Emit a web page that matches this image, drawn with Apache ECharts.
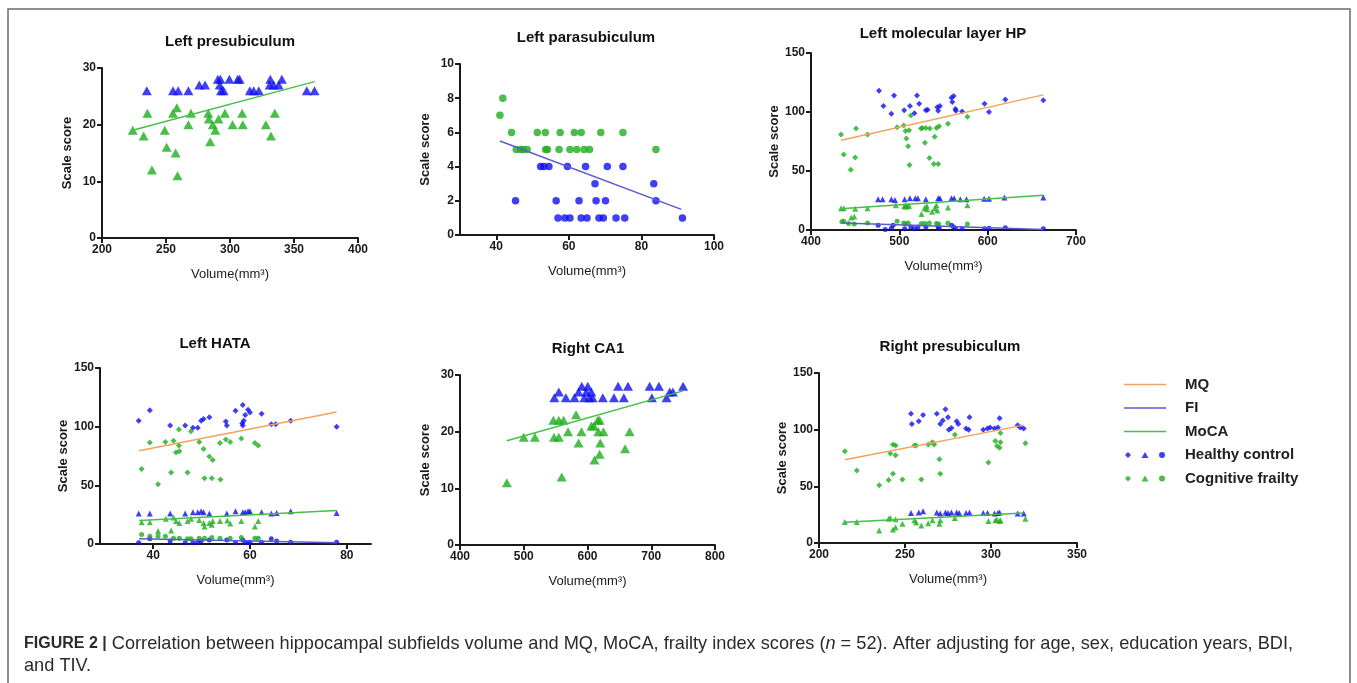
<!DOCTYPE html>
<html>
<head>
<meta charset="utf-8">
<script src="https://cdn.jsdelivr.net/npm/echarts@6/dist/echarts.min.js"></script>
<style>
  html, body { margin: 0; padding: 0; background: #fff; }
  #chart { width: 1357px; height: 683px; }
</style>
</head>
<body>
<div id="chart"></div>
<script>
// 海马亚区体积 vs MQ / MoCA / FI 散点 + 拟合线, 六个小图 + 右侧图例 + 图注
// [x 体积 mm3, y 分数]

// Left presubiculum
const lpsMocaHC = [[235,26],[255.5,26],[259.5,26],[267.5,26],[276,27],[280.5,27],[290.5,28],[292.5,28],[292,27],[293,26],[295,26],[299.5,28],[306,28],[307.5,28],[315.5,26],[318.5,26],[322.5,26],[331.5,28],[331,27],[334,27],[338,27],[340.5,28],[360,26],[366,26]]
const lpsMocaCF = [[224,19],[232.5,18],[235.5,22],[239,12],[249,19],[250.5,16],[255.5,22],[257.5,15],[258.5,23],[259,11],[267.5,20],[269.5,22],[283,22],[283.5,21],[284.5,17],[286.5,20],[288.5,19],[291,21],[296,22],[302,20],[309.5,22],[310,20],[328,20],[332,18],[335,22]]
const lpsMocaFit = [[224,19],[366,27.6]]

// Left parasubiculum
const lparaFiCF = [[41,7],[41.8,8],[44.2,6],[45.5,5],[46.7,5],[47.4,5],[48.5,5],[51.3,6],[53.5,6],[53.6,5],[54.1,5],[57.6,6],[57.3,5],[60.3,5],[61.5,6],[62.2,5],[63.4,6],[64.2,5],[65.7,5],[68.8,6],[74.9,6],[84,5]]
const lparaFiHC = [[45.3,2],[52.2,4],[53.1,4],[54.5,4],[56.5,2],[57,1],[58.9,1],[60.3,1],[59.6,4],[62.8,2],[63.4,1],[65,1],[64.6,4],[67.2,3],[67.5,2],[68.3,1],[69.5,1],[70.1,2],[70.6,4],[73,1],[74.9,4],[75.4,1],[83.4,3],[84,2],[91.3,1]]
const lparaFiFit = [[41,5.5],[91,1.5]]

// Left molecular layer HP
const lmlMqHC = [[477,118],[482,105],[491,98.5],[494,114],[505.5,101.5],[512,105],[517,99],[520,114],[522.5,107],[530,101.5],[532,102],[543,104],[544,101],[546,105],[559,112],[561.5,113.5],[560,108.5],[563.5,102.5],[564,101],[571,100.5],[596.5,107],[601.5,100],[620,110.5],[663,110]]
const lmlMqCF = [[434,81],[437,64],[445,51],[450,61.5],[451,86],[464,81],[497.5,87],[505,88.5],[507,84],[508,77.5],[510,71],[511.5,55],[511,84.5],[513,97],[524.5,86],[526,86.5],[529,74],[530,86.5],[534,61],[534.5,86],[539,56],[540,79],[542,86.5],[544,56],[545,88],[555,90],[577,96]]
const lmlMocaHC = [[476,26],[481,26],[491,26],[495,25.5],[506,26],[512,27],[518,27],[521,27],[530,26],[544,27],[546,27],[559,27],[562,27],[569,26],[576,26],[596,26.5],[601.5,26.5],[619,27.5],[663,27.5]]
const lmlMocaCF = [[434,18.5],[437,18.5],[450,18],[464,18.5],[445.5,10.5],[449,11.5],[496,21],[505.5,20],[507,21],[509,20],[511,20.5],[525,13.5],[528.5,18.5],[531,20.5],[531.5,17.5],[537,15.5],[540,18.5],[542,21],[543,16.5],[555,19],[577,21]]
const lmlFiCF = [[435,7],[437,7.5],[442.5,5.5],[449,5],[464,6],[497.5,7.5],[505,6],[507,5],[510,6],[525,5.5],[529,5.5],[534,6],[542,5.5],[544.5,5],[555,6],[577,5]]
const lmlFiHC = [[476,4],[484,0.5],[491,1.5],[493,4],[506,1],[513,2.5],[517,1],[521,2.5],[530,2.5],[544,2.5],[545,1.5],[559,4],[561.5,2.5],[563.5,1.5],[571,1],[596.5,1],[601.5,1.5],[620,2],[663,1]]
const lmlMqFit = [[434,76],[663,114.5]]
const lmlMocaFit = [[433,18],[663,29.5]]
const lmlFiFit = [[435,6],[663,0.5]]

// Left HATA
const hataMqHC = [[37,105],[39.3,114],[43.5,101],[46.6,101],[48.2,99],[49.2,99],[49.9,105],[50.4,106.5],[51.6,108],[55,104.5],[55.2,101],[57,113.5],[58.5,118.5],[58.4,103],[58.5,101],[58.7,105],[59,110],[59.6,114.5],[60,112],[62.4,111],[64.4,102],[65.3,102],[68.4,105],[77.9,100]]
const hataMqCF = [[37.6,64],[39.3,86.5],[41,51],[42.5,87],[43.7,61],[44.2,88],[44.7,78],[45.4,79],[45.3,84],[45.3,97.5],[47.1,61],[47.8,96],[49.5,87],[50.4,81],[50.6,56],[51.6,74.5],[52.1,56],[52.3,71.5],[53.8,86],[53.9,55],[55,89],[55.9,87],[58.2,90],[61,86],[61.7,84]]
const hataMocaHC = [[37,26],[39.3,26],[43.5,26],[46.6,26],[48.2,27],[49.2,27],[49.9,28],[50.4,27],[51.6,26],[55.2,26],[57,28],[58.5,27],[59,27],[59.6,28],[60,28],[62.4,27],[64.4,26],[65.5,26.5],[68.4,28],[77.9,26.5]]
const hataMocaCF = [[37.6,18.5],[39.3,18.5],[41,11],[42.6,21.5],[43.7,11.5],[44.2,22.5],[44.7,19.5],[45.4,18],[47.1,19.5],[47.8,21.5],[49.5,20.5],[50.4,18],[50.6,15],[51.6,18],[52.1,16.5],[52.3,19.5],[53.8,19.5],[55.3,20],[55.9,17.5],[58.2,19.5],[61,15],[61.7,19.5]]
const hataFiCF = [[37.6,8],[39.3,6.5],[41,6.5],[42.5,6.5],[44.2,5],[45.4,5],[47.1,4.5],[47.8,4.5],[49.5,5],[50.6,5],[52.1,5.5],[53.8,5],[55.9,5],[58.2,5.5],[61,5],[61.7,5]]
const hataFiHC = [[37,1],[39.3,4.5],[43.5,2.5],[46.6,1],[48.2,1],[49.2,1.5],[49.9,2.5],[51.6,3.5],[55.2,3.5],[57,1],[58.5,3.5],[59,1.5],[59.6,1],[60,1.5],[62.4,1.5],[64.4,4.5],[65.5,2.5],[68.4,1.5],[77.9,1.5]]
const hataMqFit = [[37.1,79.5],[77.9,112.5]]
const hataMocaFit = [[37.1,20],[77.9,28.5]]
const hataFiFit = [[37.1,4.5],[77.9,1]]

// Right CA1
const rca1MocaHC = [[548,26],[555,27],[566,26],[579.5,26],[586,27],[591,28],[595,26],[598,27],[600.5,28],[603,26],[606,27],[608,26],[624,26],[641.5,26],[648,28],[657,26],[663.5,28],[697.5,28],[701,26],[712,28],[724,26],[729,27],[734,27],[750,28]]
const rca1MocaCF = [[473.5,11],[500,19],[517.5,19],[546.5,22],[547.5,19],[555,22],[555,19],[559.5,12],[562.5,22],[569.5,20],[582,23],[586,18],[590.5,20],[606,21],[610,21],[611,15],[616,22],[617,20],[619,16],[620,18],[625,20],[659,17],[666,20],[619,22]]
const rca1MocaFit = [[473.5,18.4],[750,27.2]]

// Right presubiculum
const rpsMqHC = [[253.5,114],[254,105],[258,107.5],[260.5,113],[268.5,114],[270.5,105],[272,108],[273.5,118],[275,111],[275.5,100],[277,101.5],[280,107.5],[281,105],[285.5,101],[287,100],[287.5,111],[295.5,100],[298,101],[299.5,102],[302,101],[304,102],[305,110],[315.5,104],[317,102],[319,101]]
const rpsMqCF = [[215,81],[222,64],[235,51],[240.5,55.5],[241.5,79],[243,87],[243,61],[244.5,86],[244.5,77.5],[248.5,56],[255.5,86],[256.5,86],[259.5,56],[263.5,87],[266,89],[267,87],[270,74],[270.5,61],[279,95.5],[298.5,71],[302.5,90],[303.5,85.5],[305,84],[305.5,89],[305.5,97],[320,88]]
const rpsMocaHC = [[253.5,26.5],[258,27],[260.5,28],[268.5,27],[270.5,26],[273.5,27],[275,26.5],[277,27],[280,27],[281.5,26.5],[285.5,26.5],[287.5,27],[295.5,26.5],[298,26.5],[302,26],[304,26.5],[305,27],[315.5,26],[319,26]]
const rpsMocaCF = [[215,18.5],[222,18.5],[235,11],[240.5,21.5],[241.5,22],[243,12],[244.5,14],[244.5,21],[248.5,17],[255.5,20],[256.5,18],[259.5,15.5],[263.5,17.5],[266,20],[270,17],[270.5,20],[279,22],[298.5,19.5],[302.5,20],[303.5,20.5],[305,19.5],[305.5,20],[320,21.5]]
const rpsMqFit = [[215,73.5],[319,104]]
const rpsMocaFit = [[215,18.2],[319,26.5]]

const panelTitles = ['Left presubiculum', 'Left parasubiculum', 'Left molecular layer HP', 'Left HATA', 'Right CA1', 'Right presubiculum']

const BLUE = '#0f0ff2'
const GREEN = '#1cae1c'
const C_MQ = '#f2a25e'
const C_FI = '#5a5ad0'
const C_MOCA = '#46bf46'
const AX = '#1a1a1a'
const FONT = 'Arial, "Liberation Sans", sans-serif'

// grid 位置 + 坐标轴范围
const panels = [
  { grid: { left: 102, top: 68, width: 256, height: 170 }, x: [200, 400, 50], y: [0, 30, 10], title: [230, 42] },
  { grid: { left: 460, top: 64, width: 254, height: 171 }, x: [30, 100, null, [40, 60, 80, 100]], y: [0, 10, 2], title: [586, 38] },
  { grid: { left: 811, top: 53, width: 265, height: 177 }, x: [400, 700, 100], y: [0, 150, 50], title: [943, 34] },
  { grid: { left: 100, top: 368, width: 271, height: 176 }, x: [29, 85, null, [40, 60, 80]], y: [0, 150, 50], title: [215, 344] },
  { grid: { left: 460, top: 375, width: 255, height: 170 }, x: [400, 800, 100], y: [0, 30, 10], title: [588, 349] },
  { grid: { left: 819, top: 373, width: 258, height: 170 }, x: [200, 350, 50], y: [0, 150, 50], title: [950, 347] }
]

function xAxis(p, i) {
  const [min, max, interval, custom] = p.x
  const ax = {
    gridIndex: i, type: 'value', min, max,
    name: 'Volume(mm³)', nameLocation: 'middle', nameGap: 30,
    nameTextStyle: { fontSize: 13, color: AX, fontFamily: FONT },
    axisLine: { show: true, onZero: false, lineStyle: { color: AX, width: 2 } },
    axisTick: { show: true, length: 5, lineStyle: { color: AX, width: 2 } },
    axisLabel: { fontSize: 12, fontWeight: 'bold', color: AX, margin: 6, fontFamily: FONT },
    splitLine: { show: false }
  }
  if (interval) ax.interval = interval
  if (custom) {
    ax.axisTick.customValues = custom
    ax.axisLabel.customValues = custom
  }
  return ax
}

function yAxis(p, i) {
  const [min, max, interval] = p.y
  return {
    gridIndex: i, type: 'value', min, max, interval,
    name: 'Scale score', nameLocation: 'middle', nameGap: 28, nameRotate: 90,
    nameTextStyle: { fontSize: 13, fontWeight: 'bold', color: AX, fontFamily: FONT },
    axisLine: { show: true, lineStyle: { color: AX, width: 2 } },
    axisTick: { show: true, length: 5, lineStyle: { color: AX, width: 2 } },
    axisLabel: { fontSize: 12, fontWeight: 'bold', color: AX, margin: 6, fontFamily: FONT },
    splitLine: { show: false }
  }
}

function dots(gi, name, data, symbol, size, color) {
  return { type: 'scatter', name, xAxisIndex: gi, yAxisIndex: gi, data, symbol, symbolSize: size, itemStyle: { color }, z: 2 }
}
function fit(gi, name, data, color) {
  return { type: 'line', name, xAxisIndex: gi, yAxisIndex: gi, data, symbol: 'none', lineStyle: { color, width: 1.5 }, itemStyle: { color }, z: 3 }
}

const HC = 'Healthy control'
const CF = 'Cognitive frailty'
const D = 'diamond', T = 'triangle', C = 'circle'
const BIG_T = [10, 9]

const series = [
  // 0 Left presubiculum
  dots(0, HC, lpsMocaHC, T, BIG_T, BLUE),
  dots(0, CF, lpsMocaCF, T, BIG_T, GREEN),
  fit(0, 'MoCA', lpsMocaFit, C_MOCA),
  // 1 Left parasubiculum
  dots(1, HC, lparaFiHC, C, 7.5, BLUE),
  dots(1, CF, lparaFiCF, C, 7.5, GREEN),
  fit(1, 'FI', lparaFiFit, C_FI),
  // 2 Left molecular layer HP
  dots(2, HC, lmlMqHC, D, 6, BLUE),
  dots(2, CF, lmlMqCF, D, 6, GREEN),
  dots(2, HC, lmlMocaHC, T, 6, BLUE),
  dots(2, CF, lmlMocaCF, T, 6, GREEN),
  dots(2, HC, lmlFiHC, C, 5, BLUE),
  dots(2, CF, lmlFiCF, C, 5, GREEN),
  fit(2, 'MQ', lmlMqFit, C_MQ),
  fit(2, 'MoCA', lmlMocaFit, C_MOCA),
  fit(2, 'FI', lmlFiFit, C_FI),
  // 3 Left HATA
  dots(3, HC, hataMqHC, D, 6, BLUE),
  dots(3, CF, hataMqCF, D, 6, GREEN),
  dots(3, HC, hataMocaHC, T, 6, BLUE),
  dots(3, CF, hataMocaCF, T, 6, GREEN),
  dots(3, HC, hataFiHC, C, 5, BLUE),
  dots(3, CF, hataFiCF, C, 5, GREEN),
  fit(3, 'MQ', hataMqFit, C_MQ),
  fit(3, 'MoCA', hataMocaFit, C_MOCA),
  fit(3, 'FI', hataFiFit, C_FI),
  // 4 Right CA1
  dots(4, HC, rca1MocaHC, T, BIG_T, BLUE),
  dots(4, CF, rca1MocaCF, T, BIG_T, GREEN),
  fit(4, 'MoCA', rca1MocaFit, C_MOCA),
  // 5 Right presubiculum
  dots(5, HC, rpsMqHC, D, 6, BLUE),
  dots(5, CF, rpsMqCF, D, 6, GREEN),
  dots(5, HC, rpsMocaHC, T, 6, BLUE),
  dots(5, CF, rpsMocaCF, T, 6, GREEN),
  fit(5, 'MQ', rpsMqFit, C_MQ),
  fit(5, 'MoCA', rpsMocaFit, C_MOCA)
]

// 图例: 线条用细矩形, 组别用 菱形 / 三角 / 圆 拼一个 icon
const lineIcon = 'path://M0,0L42,0L42,1.5L0,1.5Z'
const tripleIcon = 'path://M3,0L6,3L3,6L0,3Z M20,0L23.5,6L16.5,6Z M34,3A3,3 0 1 1 40,3A3,3 0 1 1 34,3Z'

const chart = echarts.init(document.getElementById('chart'), null, { renderer: 'canvas' })
chart.setOption({
  animation: false,
  backgroundColor: '#fff',
  grid: panels.map(p => Object.assign({ containLabel: false }, p.grid)),
  xAxis: panels.map(xAxis),
  yAxis: panels.map(yAxis),
  legend: {
    orient: 'vertical', left: 1119, top: 372,
    itemWidth: 42, itemHeight: 6, itemGap: 8.5,
    selectedMode: false,
    textStyle: { fontSize: 15, fontWeight: 'bold', color: '#222', fontFamily: FONT, padding: [0, 0, 0, 14] },
    data: [
      { name: 'MQ', icon: lineIcon }, { name: 'FI', icon: lineIcon }, { name: 'MoCA', icon: lineIcon },
      { name: HC, icon: tripleIcon },
      { name: CF, icon: tripleIcon }
    ]
  },
  graphic: [
    { type: 'rect', shape: { x: 8, y: 9, width: 1342, height: 700 }, style: { fill: 'transparent', stroke: '#6a6a6a', lineWidth: 1.5 }, silent: true },
    ...panelTitles.map((t, i) => ({
      type: 'text', x: panels[i].title[0], y: panels[i].title[1],
      style: { text: t, fontSize: 15, fontWeight: 'bold', fill: '#111', fontFamily: FONT, align: 'center', verticalAlign: 'middle' }
    })),
    {
      type: 'text', x: 24, y: 633,
      style: {
        text: '{b|FIGURE 2 |} Correlation between hippocampal subfields volume and MQ, MoCA, frailty index scores ({i|n} = 52). After adjusting for age, sex, education years, BDI,\nand TIV.',
        fontSize: 18.2, fill: '#2b2b2b', fontFamily: FONT, lineHeight: 22,
        rich: {
          b: { fontSize: 16, fontWeight: 'bold', fill: '#2b2b2b', fontFamily: FONT, lineHeight: 22 },
          i: { fontSize: 18.2, fontStyle: 'italic', fill: '#2b2b2b', fontFamily: FONT, lineHeight: 22 }
        }
      }
    }
  ],
  series
})
</script>
</body>
</html>
